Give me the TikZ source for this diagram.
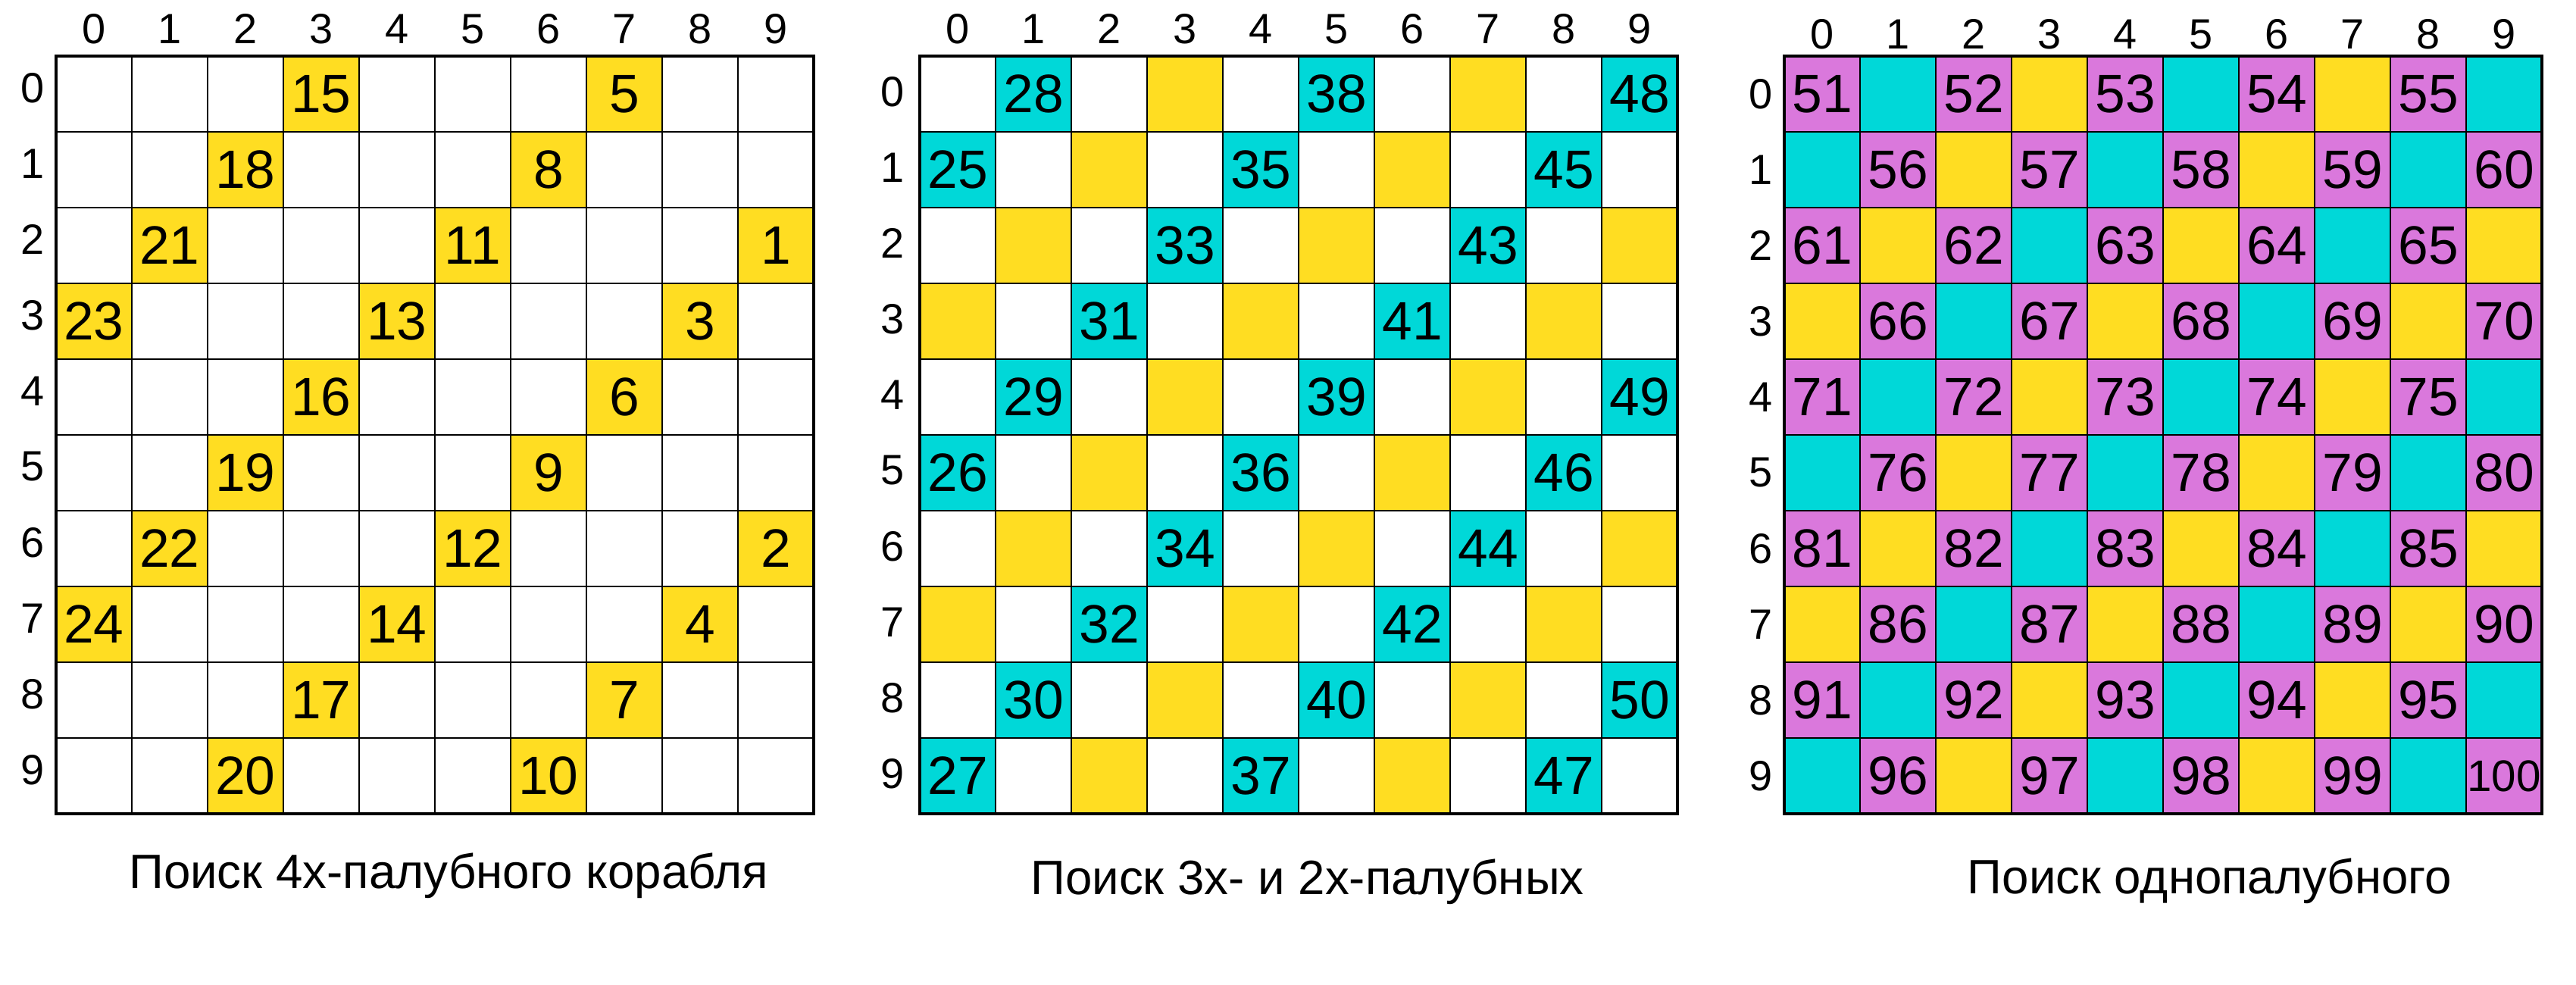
\documentclass[tikz,border=0pt]{standalone}
\usepackage{fontspec}
\setmainfont{Liberation Sans}
\usetikzlibrary{positioning}

\definecolor{deckyellow}{HTML}{FFDD22}
\definecolor{deckcyan}{HTML}{00D8D8}
\definecolor{deckpink}{HTML}{DA78DC}

\newcommand\numfont{\fontsize{20.3}{24}\selectfont}
\newcommand\smallnumfont{\fontsize{16.6}{20}\selectfont}
\newcommand\idxfont{\fontsize{15.9}{19}\selectfont}
\newcommand\capfont{\fontsize{18.1}{22}\selectfont}

\tikzset{
  cell/.style={draw, line width=0.6pt, minimum size=1cm, inner sep=0pt, outer sep=0pt},
  num/.style={font=\numfont, inner sep=0pt},
  smallnum/.style={font=\smallnumfont, inner sep=0pt},
  idx/.style={font=\idxfont, inner sep=0pt, outer sep=0pt},
  caption/.style={font=\capfont, anchor=base},
}

\begin{document}
\begin{tikzpicture}
    \useasboundingbox (0,0) rectangle (34,13);

    % the three 10x10 fields
    \foreach \g/\gx/\lvl in {a/1.24/1, b/12.64/2, c/24.05/3} {
        \foreach \r in {0,...,9} {
            \foreach \c in {0,...,9} {
                \pgfmathtruncatemacro\diag{mod(\r+\c,4)}
                \pgfmathtruncatemacro\odd{mod(\r+\c,2)}
                \def\tint{white}
                \ifnum\diag=3 \def\tint{deckyellow}\fi
                \ifnum\lvl>1 \ifnum\diag=1 \def\tint{deckcyan}\fi\fi
                \ifnum\lvl>2 \ifnum\odd=0 \def\tint{deckpink}\fi\fi
                \node[cell, fill=\tint] (\g-\r-\c) at (\gx+\c, 11.76-\r) {};
            }
        }
        \draw[line width=0.9pt] (\g-0-0.north west) rectangle (\g-9-9.south east);
    }

    % column and row indices
    \foreach \g/\gap/\side/\lift in {a/0.16cm/0.155cm/0.08cm, b/0.16cm/0.2cm/0.03cm, c/0.09cm/0.155cm/0cm} {
        \foreach \i in {0,...,9} {
            \node[idx, above=\gap of \g-0-\i] (\g-col\i) {\i};
            \node[idx, left=\side of \g-\i-0, yshift=\lift] (\g-row\i) {\i};
        }
    }

    % shots for the 4-deck ship
    \foreach \r/\c/\n in {0/3/15, 0/7/5, 1/2/18, 1/6/8, 2/1/21, 2/5/11, 2/9/1, 3/0/23, 3/4/13, 3/8/3,
                          4/3/16, 4/7/6, 5/2/19, 5/6/9, 6/1/22, 6/5/12, 6/9/2, 7/0/24, 7/4/14, 7/8/4,
                          8/3/17, 8/7/7, 9/2/20, 9/6/10}
        \node[num] (a-n\n) at (a-\r-\c) {\n};

    % shots for the 3- and 2-deck ships
    \foreach \r/\c/\n in {0/1/28, 0/5/38, 0/9/48, 1/0/25, 1/4/35, 1/8/45, 2/3/33, 2/7/43, 3/2/31, 3/6/41,
                          4/1/29, 4/5/39, 4/9/49, 5/0/26, 5/4/36, 5/8/46, 6/3/34, 6/7/44, 7/2/32, 7/6/42,
                          8/1/30, 8/5/40, 8/9/50, 9/0/27, 9/4/37, 9/8/47}
        \node[num] (b-n\n) at (b-\r-\c) {\n};

    % shots for the 1-deck ships
    \foreach \r in {0,...,9} {
        \foreach \c in {0,...,9} {
            \pgfmathtruncatemacro\odd{mod(\r+\c,2)}
            \pgfmathtruncatemacro\n{51+int((10*\r+\c)/2)}
            \ifnum\odd=0
                \ifnum\n<100 \node[num] (c-n\n) at (c-\r-\c) {\n};
                \else \node[smallnum] (c-n\n) at (c-\r-\c) {\n};
                \fi
            \fi
        }
    }

    \node[caption] (cap-a) at (5.92,1.27) {Поиск 4х-палубного корабля};
    \node[caption] (cap-b) at (17.255,1.19) {Поиск 3х- и 2х-палубных};
    \node[caption] (cap-c) at (29.165,1.20) {Поиск однопалубного};
\end{tikzpicture}
\end{document}
